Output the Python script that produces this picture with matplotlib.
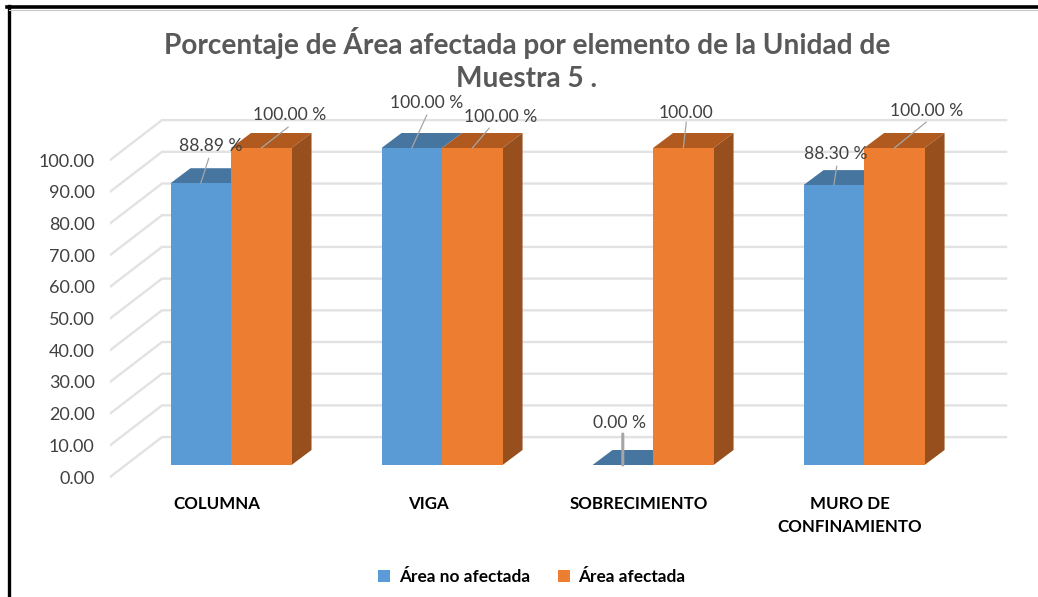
"""
Porcentaje de area afectada por elemento, Unidad de Muestra 5 (fake 3D columns)
"""
import matplotlib
matplotlib.use("Agg")
import matplotlib.pyplot as plt
from matplotlib.lines import Line2D
from matplotlib.patches import Polygon

plt.rcParams['font.family'] = ['Lato', 'DejaVu Sans']

categories = ["COLUMNA", "VIGA", "SOBRECIMIENTO", "MURO DE\nCONFINAMIENTO"]
no_afectada = [88.89, 100.00, 0.00, 88.30]
afectada = [100.00, 100.00, 100.00, 100.00]
no_afectada_labels = ["88.89 %", "100.00 %", "0.00 %", "88.30 %"]
afectada_labels = ["100.00 %", "100.00 %", "100.00", "100.00 %"]
y_ticks = [0, 10, 20, 30, 40, 50, 60, 70, 80, 90, 100]

W, H = 1038, 597
BLUE, BLUE_TOP = "#5B9BD5", "#4675A0"
ORANGE, ORANGE_TOP, ORANGE_SIDE = "#ED7D31", "#B05A20", "#964F1D"
GRID = "#E2E2E2"
LEADER = "#A6A6A6"

bar_w = 60.5 / 211     # one column, in category units
depth_x = 20 / 211     # 3D depth of a column
depth_y = 15 / 3.17
wall_x0, wall_x1, wall_x2 = -0.5735, -0.327, 3.673
wall_front, wall_back = -3.8, 8.8

fig = plt.figure(figsize=(W / 100, H / 100), dpi=100)
ax = fig.add_axes([110 / W, 1 - 490 / H, 910 / W, 400 / H])
ax.set_xlim(-0.5735, 3.739)
ax.set_ylim(-7.886, 118.3)
ax.patch.set_alpha(0)
for s in ax.spines.values():
    s.set_visible(False)

# side wall + back wall lines
for v in y_ticks:
    ax.plot([wall_x0, wall_x1, wall_x2], [v + wall_front, v + wall_back, v + wall_back],
            color=GRID, lw=1.7, zorder=1, solid_joinstyle="miter")

x = list(range(len(categories)))
blue_bars = ax.bar([i - bar_w / 2 for i in x], no_afectada, bar_w, color=BLUE, zorder=3,
                   label="Área no afectada")
orange_bars = ax.bar([i + bar_w / 2 for i in x], afectada, bar_w, color=ORANGE, zorder=5,
                     label="Área afectada")

for i in x:
    v = no_afectada[i]
    left = i - bar_w
    ax.add_patch(Polygon([(left, v), (i, v), (i + depth_x, v + depth_y), (left + depth_x, v + depth_y)],
                         color=BLUE_TOP, lw=0, zorder=2))
    v = afectada[i]
    right = i + bar_w
    ax.add_patch(Polygon([(i, v), (right, v), (right + depth_x, v + depth_y), (i + depth_x, v + depth_y)],
                         color=ORANGE_TOP, lw=0, zorder=4))
    ax.add_patch(Polygon([(right, 0), (right + depth_x, depth_y), (right + depth_x, v + depth_y), (right, v)],
                         color=ORANGE_SIDE, lw=0, zorder=4))

# data labels: (text offset, leader start offset) from the top of the column, in pixels
blue_offs = [((10, 37), (8, 25)), ((15, 45), (15, 33)), ((-3, 42), (0, 31)), ((2, 31), (3, 19))]
orange_offs = [((28, 33), (27, 21)), ((28, 31), (17, 20)), ((3, 35), (3, 26)), ((32, 37), (32, 26))]


def data_label(xpos, val, txt, offs, lw):
    tx, ln = offs
    ax.annotate("", xy=(xpos, val), xytext=ln, textcoords="offset pixels", zorder=7,
                arrowprops=dict(arrowstyle="-", color=LEADER, lw=lw, shrinkA=0, shrinkB=0))
    ax.annotate(txt, xy=(xpos, val), xytext=tx, textcoords="offset pixels", ha="center", va="center",
                fontsize=12.6, color="#404040", zorder=8)


for i in x:
    data_label(i - bar_w / 2, no_afectada[i], no_afectada_labels[i], blue_offs[i], 2.2 if i == 2 else 0.9)
    data_label(i + bar_w / 2, afectada[i], afectada_labels[i], orange_offs[i], 0.9)

ax.set_yticks([v + wall_front for v in y_ticks])
ax.set_yticklabels(["%.2f" % v for v in y_ticks], fontsize=13, color="#404040")
ax.set_xticks([i - 14 / 211 for i in x])
ax.set_xticklabels(categories, fontsize=12.2, fontweight="bold", color="black", linespacing=1.55)
ax.tick_params(axis="y", length=0, pad=11)
ax.tick_params(axis="x", length=0, pad=4)

fig.suptitle("Porcentaje de Área afectada por elemento de la Unidad de\nMuestra 5 .",
             x=527 / W, y=1 - 27 / H, va="top", fontsize=20.2, fontweight="bold",
             color="#595959", linespacing=1.32)

fig.legend(handles=[blue_bars, orange_bars], loc="center", bbox_to_anchor=(532 / W, 1 - 577 / H),
           ncol=2, frameon=False, handlelength=0.7, handleheight=0.7, handletextpad=0.5,
           columnspacing=1.6, prop=dict(size=12.4, weight="bold"))

# frame of the pasted picture: only left and top sides show
fig.add_artist(Line2D([8.5 / W, 8.5 / W], [0, 1 - 6 / H], color="black", lw=2.4))
fig.add_artist(Line2D([7 / W, 1], [1 - 7 / H, 1 - 7 / H], color="black", lw=2.6))
fig.add_artist(Line2D([9 / W, 1], [1 - 9.5 / H, 1 - 9.5 / H], color="#C8C8C8", lw=0.8))

fig.savefig("out.png", dpi=100)
